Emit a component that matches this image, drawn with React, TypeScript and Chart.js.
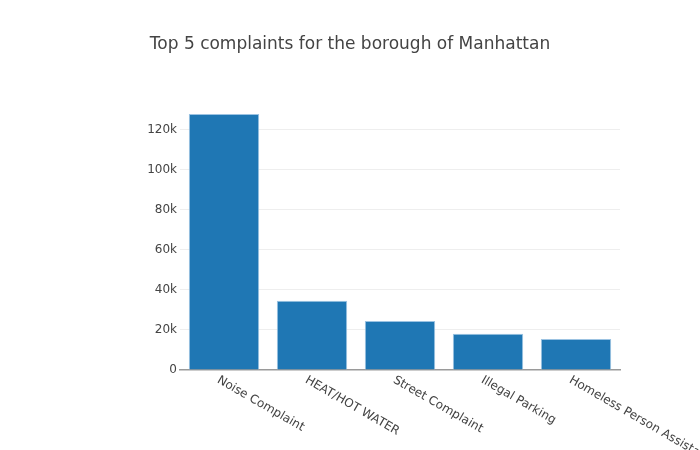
import React, { useEffect, useRef } from "react";
import { Chart, registerables } from "chart.js";

Chart.register(...registerables);

const categories = ["Noise Complaint", "HEAT/HOT WATER", "Street Complaint", "Illegal Parking", "Homeless Person Assistance"];
const counts = [127700, 34600, 24400, 18100, 15500];
const yTickValues = [0, 20000, 40000, 60000, 80000, 100000, 120000];
const titleText = "Top 5 complaints for the borough of Manhattan";

const FONT = "'DejaVu Sans', Verdana, sans-serif";

const rotatedLabels = {
  id: "rotatedLabels",
  afterDraw(chart: any) {
    const xs = chart.scales.x;
    const ctx = chart.ctx;
    const bottom = chart.chartArea.bottom;
    ctx.save();
    ctx.font = `12px ${FONT}`;
    ctx.fillStyle = "#444";
    ctx.textAlign = "left";
    ctx.textBaseline = "top";
    categories.forEach((label, i) => {
      const x = xs.getPixelForTick(i);
      ctx.save();
      ctx.translate(x - 3, bottom + 4);
      ctx.rotate(Math.PI / 6);
      ctx.fillText(label, 0, 0);
      ctx.restore();
    });
    ctx.restore();
  },
};

export default function App() {
  const ref = useRef<HTMLCanvasElement>(null);
  useEffect(() => {
    if (!ref.current) return;
    const chart = new Chart(ref.current, {
      type: "bar",
      data: {
        labels: categories,
        datasets: [
          {
            data: counts,
            backgroundColor: "#1f77b4",
            borderColor: "#9cc3e2",
            borderWidth: 1,
            categoryPercentage: 0.8,
            barPercentage: 1,
          },
        ],
      },
      options: {
        animation: false,
        responsive: false,
        layout: { padding: { left: 80, right: 80, bottom: 80, top: 0 } },
        plugins: {
          legend: { display: false },
          tooltip: { enabled: false },
          title: {
            display: true,
            text: titleText,
            color: "#444",
            font: { family: FONT, size: 17, weight: "normal" },
            padding: { top: 34, bottom: 45.6 },
          },
        },
        scales: {
          x: {
            ticks: { display: false },
            grid: { display: false },
            border: { display: true, color: "#9a9a9a", width: 1.5 },
            afterFit: (scale: any) => {
              scale.height = 0;
            },
          },
          y: {
            min: 0,
            max: 134700,
            afterBuildTicks: (scale: any) => {
              scale.ticks = yTickValues.map((v) => ({ value: v }));
            },
            afterFit: (scale: any) => {
              scale.width = 100;
            },
            ticks: {
              color: "#444",
              padding: 3,
              font: { family: FONT, size: 12 },
              callback: (v: any) => (v === 0 ? "0" : `${v / 1000}k`),
            },
            grid: {
              color: (c: any) => (c.tick && c.tick.value === 0 ? "rgba(0,0,0,0)" : "#eeeeee"),
              drawTicks: false,
            },
            border: { display: false },
          },
        },
      },
      plugins: [rotatedLabels],
    });
    return () => chart.destroy();
  }, []);
  return (
    <div style={{ position: "absolute", left: 0, top: 0, width: 700, height: 450, overflow: "hidden" }}>
      <canvas ref={ref} width={700} height={450} style={{ display: "block" }} />
    </div>
  );
}
